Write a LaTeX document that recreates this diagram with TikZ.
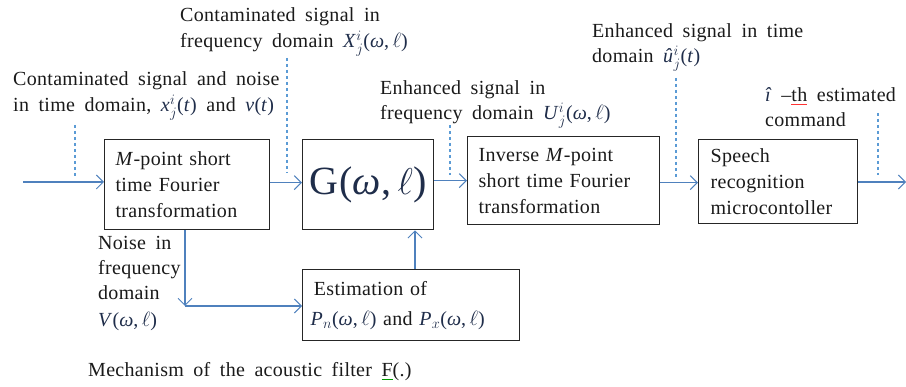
\documentclass[tikz,border=0pt]{standalone}
\usepackage{graphicx}
\usepackage{fontspec}
\setmainfont[WordSpace=1.8,LetterSpace=1.5]{Liberation Serif}
\usetikzlibrary{arrows.meta}
\definecolor{arrc}{HTML}{4F81BD}
\definecolor{dashc}{HTML}{5B9BD5}
\definecolor{mathc}{HTML}{1F2D4A}
\definecolor{txtc}{HTML}{1A1A1A}
\newcommand\mth[1]{{\color{mathc}#1}}
\newcommand\cul[2]{\setbox0\hbox{#2}\leavevmode\rlap{\color{#1}\rule[-3pt]{\wd0}{0.7pt}}\box0\relax}
\tikzset{
  lbl/.style={anchor=base west, inner sep=0pt, text=txtc, font=\fontsize{20}{24}\selectfont},
  box/.style={draw=black!85, line width=1.3pt, anchor=north west, inner xsep=12pt, inner ysep=0pt,
     align=left, text=txtc, font=\fontsize{20}{26}\selectfont},
  arr/.style={draw=arrc, line width=1.1pt, -{Straight Barb[length=7pt,width=14pt,line width=1pt]}},
  thickarr/.style={arr, line width=1.6pt},
  dline/.style={draw=dashc, line width=1.1pt, dash pattern=on 3pt off 3pt}
}
\begin{document}
\begin{tikzpicture}[x=1pt,y=-1pt]
\useasboundingbox (0,0) rectangle (906,387);
% boxes
\node[box, minimum width=165pt, minimum height=90pt, text width=143pt, inner xsep=11pt] (b1) at (104,139)
  {\textit{M}-point short\\time Fourier\\transformation};
\node[box, minimum width=131pt, minimum height=90pt, align=center, inner xsep=0pt] (b2) at (302,139)
  {\mth{\fontsize{40}{44}\selectfont G(\textit{ω},\,\scalebox{1.5}{$\ell$})}};
\node[box, minimum width=192pt, minimum height=88pt, text width=170pt, inner xsep=11pt] (b3) at (467,136)
  {Inverse \textit{M}-point\\short time Fourier\\transformation};
\node[box, minimum width=159pt, minimum height=84pt, text width=135pt] (b4) at (698,139)
  {Speech\\recognition\\microcontoller};
\node[box, minimum width=217pt, minimum height=71pt, text width=201pt, inner xsep=8pt, font=\fontsize{20}{30}\selectfont] (b5) at (302,269)
  {\,Estimation of\\\mth{\textit{P}$_{n}$(\textit{ω},$\,\ell$)} and \mth{\textit{P}$_{x}$(\textit{ω},$\,\ell$)}};
% labels
\node[lbl] (la1) at (180,22) {Contaminated signal in};
\node[lbl] (la2) at (180,48) {frequency domain \mth{\textit{X}$^{i}_{j}$(\textit{ω},$\,\ell$)}};
\node[lbl] (lb1) at (13,86) {Contaminated signal and noise};
\node[lbl] (lb2) at (13,112) {in time domain, \mth{\textit{x}$^{i}_{j}$(\textit{t})} and \mth{\textit{v}(\textit{t})}};
\node[lbl] (lc1) at (380,95) {Enhanced signal in};
\node[lbl] (lc2) at (380,120) {frequency domain \mth{\textit{U}$^{i}_{j}$(\textit{ω},$\,\ell$)}};
\node[lbl] (ld1) at (592,38) {Enhanced signal in time};
\node[lbl] (ld2) at (592,63) {domain \mth{\textit{û}$^{i}_{j}$(\textit{t})}};
\node[lbl] (le1) at (765,102) {\mth{\textit{î}} –\cul{red!80}{th} estimated};
\node[lbl] (le2) at (765,127) {command};
\node[lbl] (ln1) at (98,250) {Noise in};
\node[lbl] (ln2) at (98,275) {frequency};
\node[lbl] (ln3) at (98,300) {domain};
\node[lbl] (ln4) at (98,327) {\mth{\textit{V}(\textit{ω},$\,\ell$)}};
\node[lbl] (lm) at (88,377) {Mechanism of the acoustic filter \cul{green!60!black}{F}(.)};
% coordinates
\coordinate (in) at (23,182);
\coordinate (out) at (906,182);
\coordinate (nd) at (185,306);
\coordinate (up) at (415,0);
% arrows
\draw[thickarr] (in) -- (in -| b1.west);
\draw[arr] ([yshift=2pt]b1.east) -- ([yshift=2pt]b1.east -| b2.west);
\draw[arr] ([yshift=4pt]b2.east) -- ([yshift=4pt]b2.east -| b3.west);
\draw[arr] ([yshift=-2pt]b3.east) -- ([yshift=-2pt]b3.east -| b4.west);
\draw[thickarr] (b4.east |- out) -- (out);
\draw[arr] (b1.south -| nd) -- (nd);
\draw[arr] (nd) -- (nd -| b5.west);
\draw[arr] (b5.north -| up) -- (b2.south -| up);
% dashed leaders
\coordinate (d1a) at (75,125); \coordinate (d1b) at (75,177);
\coordinate (d2a) at (287,58); \coordinate (d2b) at (287,173);
\coordinate (d3a) at (450,125); \coordinate (d3b) at (450,175);
\coordinate (d4a) at (676,78); \coordinate (d4b) at (676,177);
\coordinate (d5a) at (878,113); \coordinate (d5b) at (878,175);
\draw[dline] (d1a) -- (d1b);
\draw[dline] (d2a) -- (d2b);
\draw[dline] (d3a) -- (d3b);
\draw[dline] (d4a) -- (d4b);
\draw[dline] (d5a) -- (d5b);
\end{tikzpicture}
\end{document}
